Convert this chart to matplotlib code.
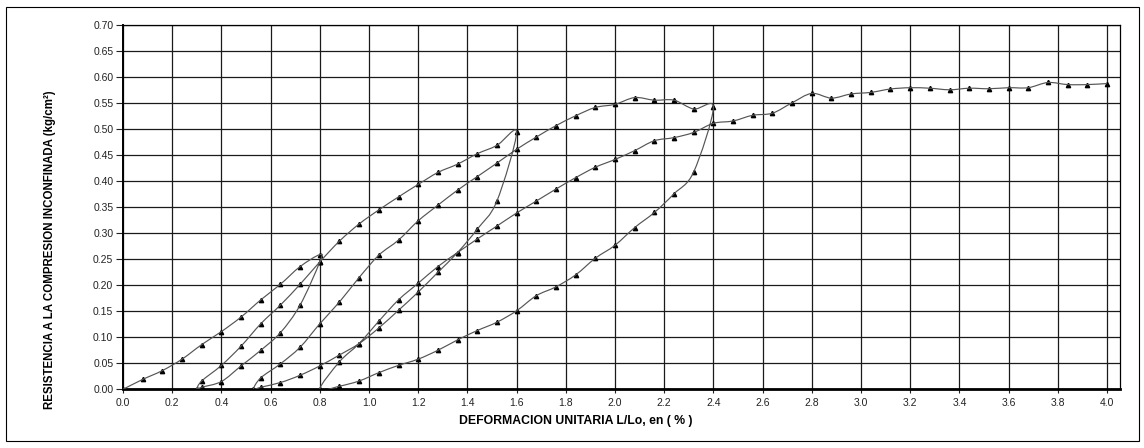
import numpy as np
import matplotlib
matplotlib.use("Agg")
import matplotlib.pyplot as plt
from matplotlib.path import Path
from matplotlib.patches import PathPatch, Rectangle

# cycle 1: first loading up to 0.8 %
load1_x = [0.00, 0.08, 0.16, 0.24, 0.32, 0.40, 0.48, 0.56, 0.64, 0.72, 0.80]
load1_y = [0.000, 0.019, 0.036, 0.058, 0.086, 0.111, 0.139, 0.172, 0.202, 0.236, 0.259]

unload1_x = [0.80, 0.72, 0.64, 0.56, 0.48, 0.40, 0.32, 0.30]
unload1_y = [0.245, 0.162, 0.109, 0.075, 0.045, 0.015, 0.004, 0.000]

# cycle 2: reloading up to 1.6 %
reload1_x = [0.32, 0.40, 0.48, 0.56, 0.64, 0.72, 0.80, 0.88, 0.96, 1.04, 1.12,
             1.20, 1.28, 1.36, 1.44, 1.52, 1.60]
reload1_y = [0.016, 0.046, 0.083, 0.126, 0.162, 0.202, 0.245, 0.285, 0.318, 0.345, 0.370,
             0.394, 0.417, 0.433, 0.453, 0.469, 0.494]

unload2_x = [1.52, 1.44, 1.36, 1.28, 1.20, 1.12, 1.04, 0.96, 0.88, 0.80, 0.72,
             0.64, 0.56, 0.53]
unload2_y = [0.362, 0.308, 0.263, 0.225, 0.187, 0.152, 0.118, 0.088, 0.066, 0.045, 0.027,
             0.013, 0.004, 0.000]

# cycle 3: reloading up to 2.4 %
reload2_x = [0.56, 0.64, 0.72, 0.80, 0.88, 0.96, 1.04, 1.12, 1.20, 1.28, 1.36,
             1.44, 1.52, 1.60, 1.68, 1.76, 1.84, 1.92, 2.00, 2.08, 2.16, 2.24,
             2.32, 2.40]
reload2_y = [0.022, 0.049, 0.081, 0.126, 0.168, 0.215, 0.258, 0.287, 0.324, 0.354, 0.383,
             0.409, 0.435, 0.4615, 0.485, 0.507, 0.526, 0.542, 0.548, 0.561, 0.556, 0.556,
             0.539, 0.542]

unload3_x = [2.32, 2.24, 2.16, 2.08, 2.00, 1.92, 1.84, 1.76, 1.68, 1.60, 1.52,
             1.44, 1.36, 1.28, 1.20, 1.12, 1.04, 0.96, 0.88, 0.80]
unload3_y = [0.418, 0.376, 0.340, 0.311, 0.277, 0.252, 0.220, 0.197, 0.180, 0.151, 0.129,
             0.113, 0.095, 0.075, 0.058, 0.046, 0.032, 0.016, 0.006, 0.000]

# final loading up to 4.0 %
reload3_x = [0.88, 0.96, 1.04, 1.12, 1.20, 1.28, 1.36, 1.44, 1.52, 1.60,
             1.68, 1.76, 1.84, 1.92, 2.00, 2.08, 2.16, 2.24, 2.32, 2.40,
             2.48, 2.56, 2.64, 2.72, 2.80, 2.88, 2.96, 3.04, 3.12, 3.20,
             3.28, 3.36, 3.44, 3.52, 3.60, 3.68, 3.76, 3.84, 3.92, 4.00]
reload3_y = [0.053, 0.088, 0.131, 0.172, 0.204, 0.236, 0.263, 0.289, 0.314, 0.339,
             0.362, 0.385, 0.407, 0.427, 0.442, 0.459, 0.478, 0.484, 0.494, 0.5115,
             0.516, 0.527, 0.531, 0.551, 0.569, 0.560, 0.568, 0.571, 0.5775, 0.580,
             0.579, 0.576, 0.579, 0.578, 0.580, 0.580, 0.590, 0.586, 0.586, 0.588]

x_ticks = [0.0, 0.2, 0.4, 0.6, 0.8, 1.0, 1.2, 1.4, 1.6, 1.8, 2.0, 2.2, 2.4, 2.6, 2.8,
           3.0, 3.2, 3.4, 3.6, 3.8, 4.0]
y_ticks = [0.00, 0.05, 0.10, 0.15, 0.20, 0.25, 0.30, 0.35, 0.40, 0.45, 0.50, 0.55,
           0.60, 0.65, 0.70]


def smooth_path(xs, ys):
    # Catmull-Rom style bezier, like the spreadsheet "smoothed line"
    pts = np.column_stack([xs, ys])
    n = len(pts)
    verts = [pts[0]]
    codes = [Path.MOVETO]
    for i in range(n - 1):
        p0 = pts[i - 1] if i > 0 else pts[i]
        p1 = pts[i]
        p2 = pts[i + 1]
        p3 = pts[i + 2] if i + 2 < n else pts[i + 1]
        verts += [p1 + (p2 - p0) / 6, p2 - (p3 - p1) / 6, p2]
        codes += [Path.CURVE4] * 3
    return Path(verts, codes)


plt.rcParams['font.family'] = ['Liberation Sans Narrow', 'Liberation Sans', 'DejaVu Sans']

all_x = load1_x + unload1_x + reload1_x + unload2_x + reload2_x + unload3_x + reload3_x
all_y = load1_y + unload1_y + reload1_y + unload2_y + reload2_y + unload3_y + reload3_y

fig = plt.figure(figsize=(11.44, 4.48), dpi=100)
ax = fig.add_axes([123 / 1144, 58.7 / 448, (1120 - 123) / 1144, (422.7 - 58.7) / 448])

ax.add_patch(PathPatch(smooth_path(all_x, all_y), fill=False, edgecolor='#555555',
                       linewidth=0.85, zorder=3))
ax.plot(all_x, all_y, linestyle='none', marker='^', markersize=3.1,
        color='black', zorder=2.4)

ax.set_xlim(0, 4.053)
ax.set_ylim(0, 0.70)
ax.set_xticks(x_ticks)
ax.set_xticklabels([f"{v:.1f}" for v in x_ticks])
ax.set_yticks(y_ticks)
ax.set_yticklabels([f"{v:.2f}" for v in y_ticks])
ax.tick_params(axis='both', labelsize=7.5, colors='#222222', direction='out')
ax.tick_params(axis='y', length=5, width=0.8, pad=2)
ax.tick_params(axis='x', length=3, width=0.8, pad=3)
ax.grid(True, color='#1a1a1a', linewidth=0.9)
ax.set_axisbelow(True)

for side in ['top', 'right']:
    ax.spines[side].set_linewidth(0.9)
ax.spines['left'].set_linewidth(1.4)
ax.spines['bottom'].set_linewidth(2.0)

fig.text(50 / 1144, 1 - 250 / 448, "RESISTENCIA A LA COMPRESION INCONFINADA (kg/cm²)",
         rotation=90, ha='center', va='center', fontsize=8.3, fontweight='bold')
fig.text(576 / 1144, 1 - 421 / 448, "DEFORMACION UNITARIA L/Lo, en ( % )",
         ha='center', va='center', fontsize=8.8, fontweight='bold')

fig.patches.append(Rectangle((6 / 1144, 7 / 448), (1139 - 6) / 1144, (441 - 7) / 448,
                             transform=fig.transFigure, fill=False,
                             edgecolor='black', linewidth=0.8))

fig.savefig("out.png", dpi=100)
